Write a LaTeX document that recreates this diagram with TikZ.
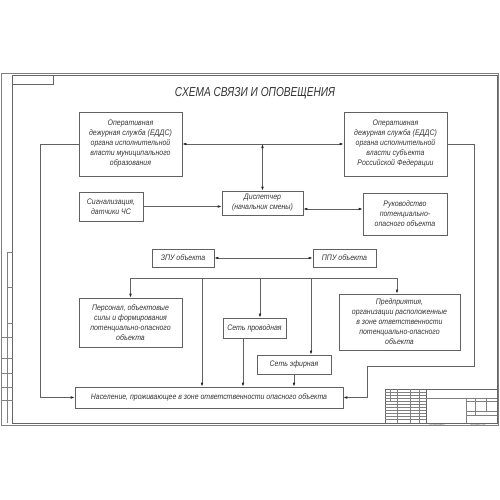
\documentclass[tikz,border=0pt]{standalone}
\usepackage{fontspec}
\setmainfont{Liberation Sans}
\newfontfamily\boxfont{Liberation Sans}[FakeStretch=0.87]
\newfontfamily\titlefont{Liberation Sans}[FakeStretch=0.78]
\usetikzlibrary{arrows.meta}
\begin{document}
\begin{tikzpicture}[x=1pt,y=-1pt,
  box/.style={draw=black!62, line width=0.6pt, inner sep=1pt, align=center, text=black!80,
              font=\boxfont\itshape\fontsize{8}{10}\selectfont},
  ln/.style={draw=black!62, line width=0.6pt},
  arr/.style={ln, -{Latex[length=4pt,width=2.6pt,color=black!85]}},
  darr/.style={ln, {Latex[length=4pt,width=2.6pt,color=black!85]}-{Latex[length=4pt,width=2.6pt,color=black!85]}},
  frm/.style={draw=black!60, line width=0.5pt},
  thinl/.style={draw=black!50, line width=0.35pt},
  tiny/.style={font=\fontsize{3}{3.5}\selectfont, text=black!60, inner sep=0pt}]
\useasboundingbox (0,0) rectangle (500,500);

% sheet frame
\draw[thinl] (1.5,73) rectangle (498.5,425.5);
\draw[frm] (12.5,75) rectangle (497,423);
\draw[frm] (12.5,84) -- (53.5,84) -- (53.5,75);

% left strip
\draw[thinl] (7.3,252) -- (7.3,423);
\foreach \yy in {252,287,323} \draw[thinl] (7.3,\yy) -- (12.5,\yy);
\foreach \yy in {337,358,373,387,400} \draw[thinl] (1.5,\yy) -- (12.5,\yy);

% title block
\draw[frm] (385,389) rectangle (497,423);
\foreach \yy in {392,395,398,401,404,407,410,413,416,419} \draw[thinl] (385,\yy) -- (426,\yy);
\draw[thinl] (390,389) -- (390,401);
\foreach \xx in {397,410,419} \draw[thinl] (\xx,389) -- (\xx,423);
\draw[frm] (426,389) -- (426,423);
\draw[thinl] (426,398) -- (497,398);
\draw[thinl] (466,398) -- (466,423);
\draw[thinl] (466,401) -- (497,401);
\draw[thinl] (466,411) -- (497,411);
\draw[thinl] (466,415) -- (497,415);
\draw[thinl] (475,398) -- (475,415);
\draw[thinl] (486,398) -- (486,411);
\node[tiny] (cop) at (437,425) {Копировал};
\node[tiny] (fmt) at (478,425) {Формат A3};

% title
\node[font=\titlefont\itshape\fontsize{13}{15}\selectfont, text=black!80] (title) at (255,93) {СХЕМА СВЯЗИ И ОПОВЕЩЕНИЯ};

% boxes
\node[box, minimum width=103pt, minimum height=64pt] (A) at (130.5,144)
  {Оперативная\\дежурная служба (ЕДДС)\\органа исполнительной\\власти муниципального\\образования};
\node[box, minimum width=103pt, minimum height=64pt] (B) at (395.5,144)
  {Оперативная\\дежурная служба (ЕДДС)\\органа исполнительной\\власти субъекта\\Российской Федерации};
\node[box, minimum width=64pt, minimum height=29pt] (sig) at (111,206.5)
  {Сигнализация,\\датчики ЧС};
\node[box, minimum width=81pt, minimum height=24pt] (disp) at (262.5,203)
  {Диспетчер\\(начальник смены)};
\node[box, minimum width=84pt, minimum height=42pt] (ruk) at (405,214)
  {Руководство\\потенциально-\\опасного объекта};
\node[box, minimum width=62pt, minimum height=18pt] (zpu) at (183,258) {ЗПУ объекта};
\node[box, minimum width=63pt, minimum height=18pt] (ppu) at (344.5,258) {ППУ объекта};
\node[box, minimum width=103pt, minimum height=49pt] (pers) at (130.5,322.5)
  {Персонал, объектовые\\силы и формирования\\потенциально-опасного\\объекта};
\node[box, minimum width=63pt, minimum height=20pt] (wire) at (254.5,328) {Сеть проводная};
\node[box, minimum width=74pt, minimum height=19pt] (ether) at (294,364.5) {Сеть эфирная};
\node[box, minimum width=121pt, minimum height=56pt] (pred) at (399.5,322)
  {Предприятия,\\организации расположенные\\в зоне ответственности\\потенциально-опасного\\объекта};
\node[box, minimum width=268pt, minimum height=21pt] (pop) at (209,397.5)
  {Население, проживающее в зоне ответственности опасного объекта};

% connectors
\draw[darr] (A.east) -- (B.west);
\draw[darr] (disp.north) -- (disp.north |- A.east);
\draw[arr] (sig.east) -- (sig.east -| disp.west);
\draw[darr] ([yshift=-6pt]disp.east) -- ([yshift=-6pt]disp.east -| ruk.west);
\draw[darr] (zpu.east) -- (ppu.west);

\coordinate (busL) at (130.5,278);
\coordinate (b1) at (202,278);
\coordinate (b2) at (260,278);
\coordinate (b3) at (311,278);
\coordinate (busR) at (397,278);
\draw[ln] (busL) -- (busR);
\draw[arr] (busL) -- (pers.north);
\draw[arr] (b1) -- (b1 |- pop.north);
\draw[arr] (b2) -- (b2 |- wire.north);
\draw[arr] (b3) -- (b3 |- ether.north);
\draw[arr] (busR) -- (busR |- pred.north);
\draw[arr] ([xshift=-11.5pt]wire.south) -- ([xshift=-11.5pt]wire.south |- pop.north);
\draw[arr] (ether.south) -- (ether.south |- pop.north);

\coordinate (L) at (40,144);
\draw[arr] (A.west) -- (L) |- (pop.west);
\coordinate (R1) at (474,144);
\coordinate (R2) at (474,366);
\coordinate (R3) at (367,366);
\draw[arr] (B.east) -- (R1) -- (R2) -- (R3) |- (pop.east);
\end{tikzpicture}
\end{document}
